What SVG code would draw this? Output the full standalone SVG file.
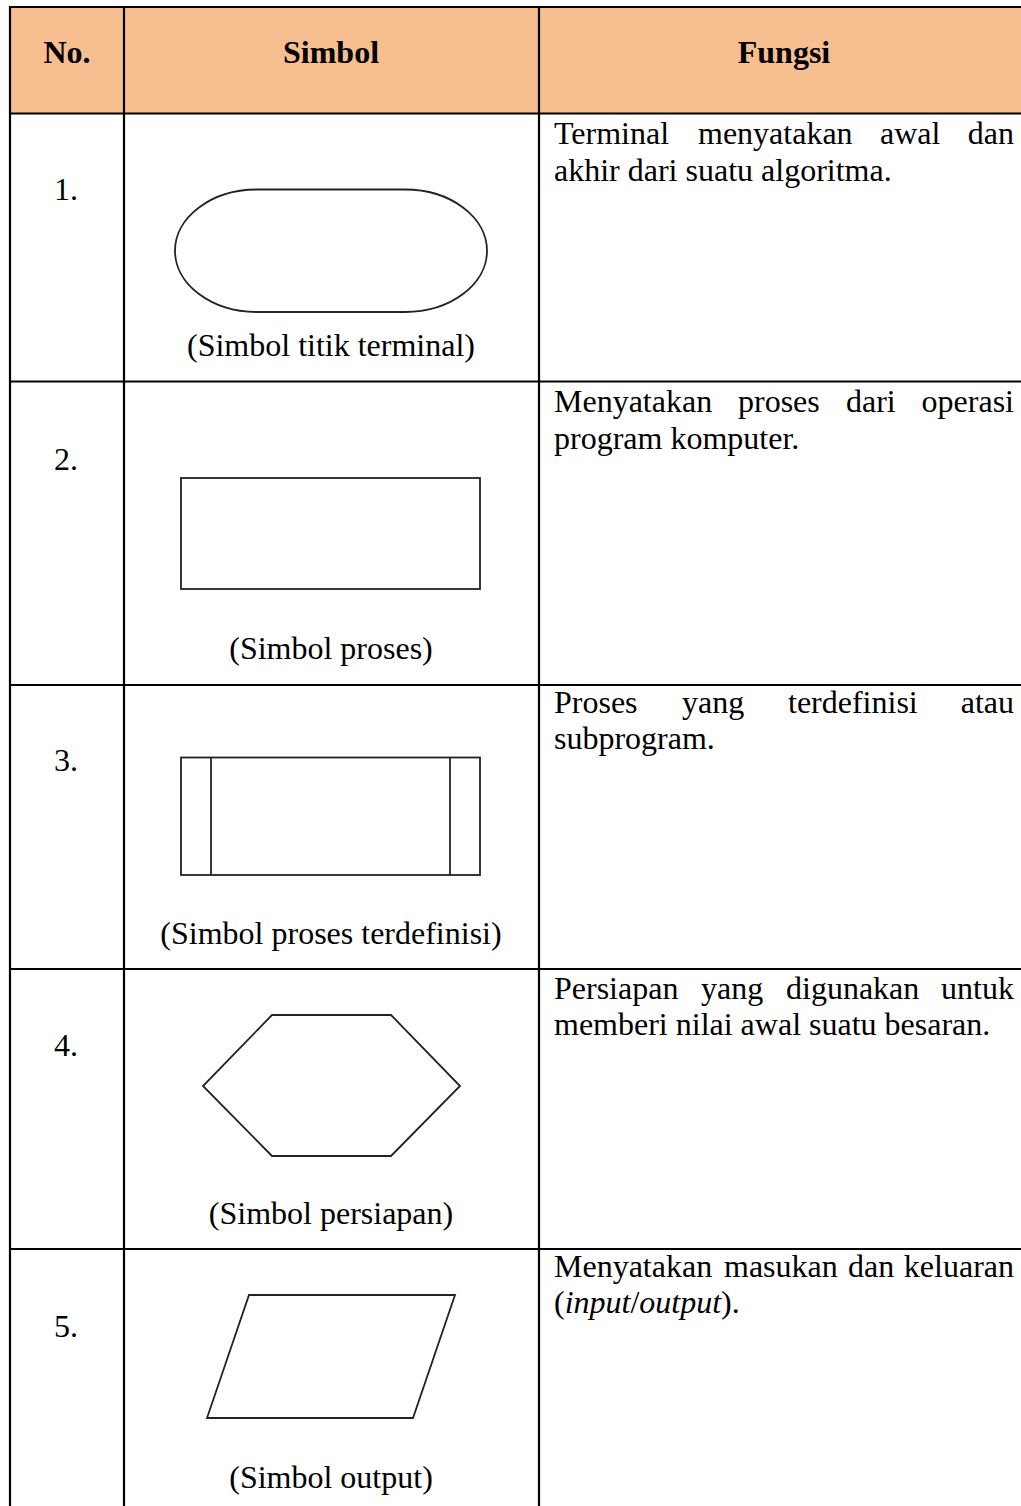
<svg xmlns="http://www.w3.org/2000/svg" width="1021" height="1506" viewBox="0 0 1021 1506">
<style>
text{font-family:"Liberation Serif","Times New Roman",serif;font-size:32px;fill:#000}
.h{font-weight:bold;font-size:32px;text-anchor:middle}
.c{text-anchor:middle}
.grid{stroke:#000;stroke-width:2.2;fill:none}
.shape{stroke:#222;stroke-width:1.8;fill:none}
</style>
<rect x="0" y="0" width="1021" height="1506" fill="#fff"/>
<g id="header">
<rect x="10" y="7" width="1011" height="106.5" fill="#F7BF8F"/>
<text class="h" x="67" y="63">No.</text>
<text class="h" x="331" y="63">Simbol</text>
<text class="h" x="784" y="63">Fungsi</text>
</g>
<g id="grid" class="grid">
<line x1="9" y1="7" x2="1021" y2="7"/>
<line x1="9" y1="113.5" x2="1021" y2="113.5"/>
<line x1="9" y1="381.5" x2="1021" y2="381.5"/>
<line x1="9" y1="685" x2="1021" y2="685"/>
<line x1="9" y1="969" x2="1021" y2="969"/>
<line x1="9" y1="1249" x2="1021" y2="1249"/>
<line x1="10" y1="6" x2="10" y2="1506"/>
<line x1="124" y1="6" x2="124" y2="1506"/>
<line x1="539" y1="6" x2="539" y2="1506"/>
</g>
<g id="row1">
<text class="c" x="66" y="200">1.</text>
<path class="shape" d="M257,189.5 H405 A82,61.25 0 0 1 405,312 H257 A82,61.25 0 0 1 257,189.5 Z"/>
<text class="c" x="331" y="356">(Simbol titik terminal)</text>
<text y="144"><tspan x="554">Terminal</tspan><tspan x="698">menyatakan</tspan><tspan x="880">awal</tspan><tspan x="1014" text-anchor="end">dan</tspan></text>
<text x="554" y="181">akhir dari suatu algoritma.</text>
</g>
<g id="row2">
<text class="c" x="66" y="470">2.</text>
<rect class="shape" x="181" y="478" width="299" height="111"/>
<text class="c" x="331" y="659">(Simbol proses)</text>
<text y="412"><tspan x="554">Menyatakan</tspan><tspan x="738">proses</tspan><tspan x="846">dari</tspan><tspan x="1014" text-anchor="end">operasi</tspan></text>
<text x="554" y="449">program komputer.</text>
</g>
<g id="row3">
<text class="c" x="66" y="771">3.</text>
<rect class="shape" x="181" y="757.5" width="299" height="117.5"/>
<line class="shape" x1="211" y1="757.5" x2="211" y2="875"/>
<line class="shape" x1="450" y1="757.5" x2="450" y2="875"/>
<text class="c" x="331" y="944">(Simbol proses terdefinisi)</text>
<text y="713"><tspan x="554">Proses</tspan><tspan x="682">yang</tspan><tspan x="788">terdefinisi</tspan><tspan x="1014" text-anchor="end">atau</tspan></text>
<text x="554" y="749">subprogram.</text>
</g>
<g id="row4">
<text class="c" x="66" y="1056">4.</text>
<polygon class="shape" points="272,1015 391,1015 460,1086 391,1156 272,1156 203,1086"/>
<text class="c" x="331" y="1224">(Simbol persiapan)</text>
<text y="999"><tspan x="554">Persiapan</tspan><tspan x="701">yang</tspan><tspan x="786">digunakan</tspan><tspan x="1014" text-anchor="end">untuk</tspan></text>
<text x="554" y="1035">memberi nilai awal suatu besaran.</text>
</g>
<g id="row5">
<text class="c" x="66" y="1337">5.</text>
<polygon class="shape" points="249,1295 455,1295 413,1418 207,1418"/>
<text class="c" x="331" y="1488">(Simbol output)</text>
<text y="1277"><tspan x="554">Menyatakan</tspan><tspan x="724">masukan</tspan><tspan x="848">dan</tspan><tspan x="1014" text-anchor="end">keluaran</tspan></text>
<text x="554" y="1313">(<tspan font-style="italic">input</tspan>/<tspan font-style="italic">output</tspan>).</text>
</g>
</svg>
